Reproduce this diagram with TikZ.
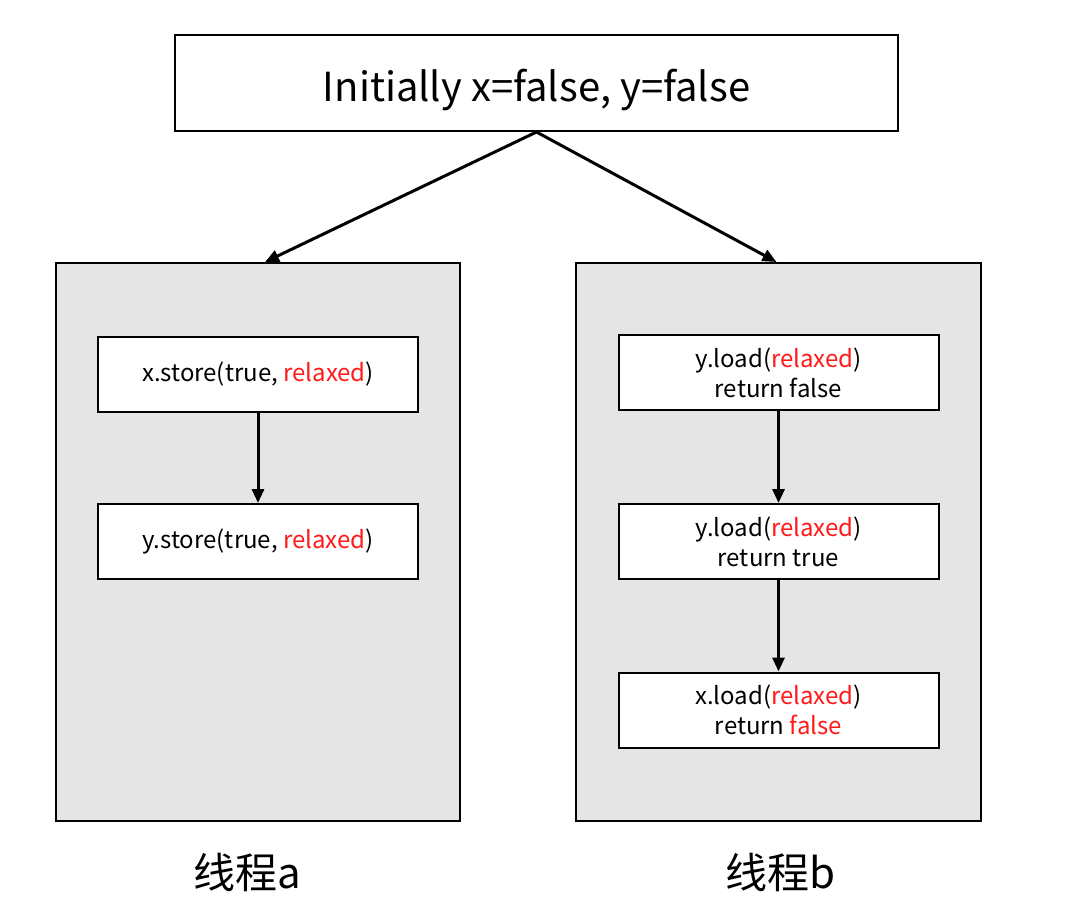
\documentclass[tikz,border=0pt]{standalone}
\usepackage{fontspec}
\setmainfont{Noto Sans CJK SC}
\usetikzlibrary{arrows.meta,positioning}
\definecolor{panelgray}{HTML}{E5E5E5}
\definecolor{hotred}{HTML}{FF1A1A}
\newcommand{\rlx}{\textcolor{hotred}{relaxed}}

\begin{document}
\begin{tikzpicture}[x=0.5pt,y=-0.5pt,
  font=\fontsize{12}{15}\selectfont,
  panel/.style={draw=black,line width=1pt,fill=panelgray,inner sep=0pt},
  opbox/.style={draw=black,line width=1pt,fill=white,align=center,
                minimum width=160pt,minimum height=37.5pt,inner sep=0pt},
  flow/.style={-{Triangle[length=7pt,width=6pt]},line width=1.5pt},
  caption/.style={font=\fontsize{21}{24}\selectfont}
]
% pixel grid of the reference, 1080 x 922
\path[use as bounding box] (0,0) rectangle (1080,922);

\node[draw=black,line width=1pt,minimum width=361.5pt,minimum height=48pt,
      text height=22pt,text depth=4pt,
      font=\fontsize{20}{24}\selectfont] (init) at (536.5,83) {Initially x=false, y=false};

\node[panel,minimum width=202pt,minimum height=279pt] (threada) at (258,542) {};
\node[panel,minimum width=202.5pt,minimum height=279pt] (threadb) at (778.5,542) {};
\draw[flow] (init.south) -- ([xshift=3.5pt]threada.north);
\draw[flow] (init.south) -- ([xshift=-1pt]threadb.north);

% thread a
\node[opbox] (store1) at (258,374.5) {x.store(true, \rlx)};
\node[opbox] (store2) at (258,541.5) {y.store(true, \rlx)};
\draw[flow] (store1) -- (store2);

% thread b
\node[opbox] (load1) at (778.5,372.5) {y.load(\rlx)\\return false};
\node[opbox] (load2) at (778.5,541.5) {y.load(\rlx)\\return true};
\node[opbox] (load3) at (778.5,710) {x.load(\rlx)\\return \textcolor{hotred}{false}};
\draw[flow] (load1) -- (load2);
\draw[flow] (load2) -- (load3);

\node[caption] (labela) at (247,872) {线程a};
\node[caption] (labelb) at (780,872) {线程b};
\end{tikzpicture}
\end{document}
